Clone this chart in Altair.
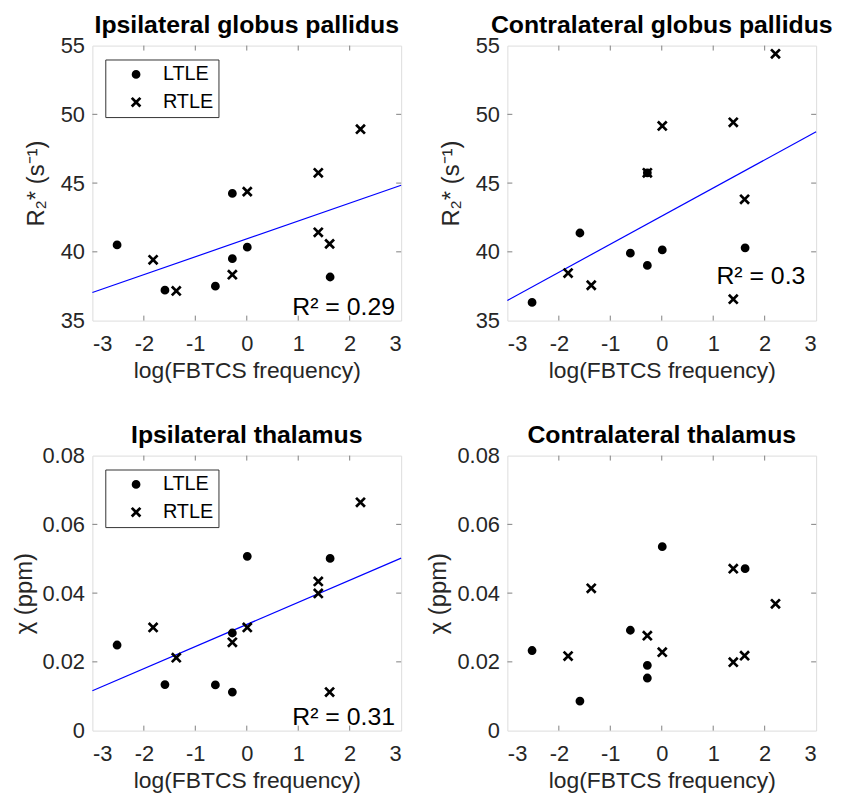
import altair as alt
import pandas as pd

# ---------------- data ----------------
groups = ["LTLE", "RTLE"]
ltle_x = [-2.52, -1.59, -0.61, -0.28, -0.28, 0.01, 1.62]
rtle_x = [-1.82, -1.37, -0.28, 0.01, 1.39, 1.39, 1.61, 2.21]

# Ipsilateral globus pallidus (R2*, 1/s)
ipsi_gp_ltle = [40.5, 37.21, 37.5, 44.25, 39.5, 40.34, 38.17]
ipsi_gp_rtle = [39.42, 37.16, 38.34, 44.38, 45.75, 41.42, 40.58, 48.92]
# Contralateral globus pallidus
contra_gp_ltle = [36.32, 41.37, 39.9, 39.01, 45.75, 40.14, 40.29]
contra_gp_rtle = [38.46, 37.57, 45.75, 49.16, 49.42, 36.56, 43.82, 54.4]
# Ipsilateral thalamus (chi, ppm)
ipsi_th_ltle = [0.0249, 0.0134, 0.0133, 0.0112, 0.0284, 0.0507, 0.0501]
ipsi_th_rtle = [0.0300, 0.0212, 0.0257, 0.0300, 0.0434, 0.0399, 0.0112, 0.0664]
# Contralateral thalamus
contra_th_ltle = [0.0233, 0.0086, 0.0292, 0.0190, 0.0153, 0.0535, 0.0471]
contra_th_rtle = [0.0217, 0.0414, 0.0276, 0.0228, 0.0471, 0.0199, 0.0218, 0.0369]

titles = ["Ipsilateral globus pallidus", "Contralateral globus pallidus",
          "Ipsilateral thalamus", "Contralateral thalamus"]
r2_labels = ["R\u00b2 = 0.29", "R\u00b2 = 0.3", "R\u00b2 = 0.31", None]
r2_x = [2.88, 2.79, 2.88, None]
r2_y = [35.43, 37.67, 0.0017, None]

x_ticks = [-3, -2, -1, 0, 1, 2, 3]
x_inner = [-2, -1, 0, 1, 2]
gp_ticks = [35, 40, 45, 50, 55]
gp_inner = [40, 45, 50]
th_ticks = [0, 0.02, 0.04, 0.06, 0.08]
th_inner = [0.02, 0.04, 0.06]

FONT = "Liberation Sans"
W, H = 311, 277
TICKLEN = 5
BOX = "#808080"
TXT = "#262626"
CROSS = "M-1.45,-1.45L1.45,1.45M1.45,-1.45L-1.45,1.45"


def panel(i, ltle_y, rtle_y, ydom, yticks, yinner, ytitle, ytitlepad, legend, fit):
    df = pd.DataFrame({
        "x": ltle_x + rtle_x,
        "y": ltle_y + rtle_y,
        "group": ["LTLE"] * len(ltle_x) + ["RTLE"] * len(rtle_x),
    })
    xs = alt.Scale(domain=[-3, 3], nice=False, zero=False)
    ys = alt.Scale(domain=ydom, nice=False, zero=False)
    xaxis = alt.Axis(values=x_ticks, labelExpr="'' + datum.value", ticks=False, tickSize=0,
                     domain=False, grid=False, labelFontSize=22, labelColor=TXT, labelFont=FONT,
                     labelPadding=13, title="log(FBTCS frequency)", titleFontSize=23,
                     titleFontWeight="normal", titleFont=FONT, titleColor=TXT, titlePadding=5)
    yaxis = alt.Axis(values=yticks, format=".2~f", ticks=False, tickSize=0, domain=False,
                     grid=False, labelFontSize=22, labelColor=TXT, labelFont=FONT, labelPadding=8,
                     title=ytitle, titleFontSize=24, titleFontWeight="normal", titleFont=FONT,
                     titleColor=TXT, titlePadding=ytitlepad)
    if legend:
        leg = alt.Legend(title=None, orient="none", legendX=13, legendY=14, padding=5,
                         strokeColor="#333333", fillColor="white", labelFontSize=20,
                         labelFont=FONT, labelColor="black", symbolSize=36,
                         symbolFillColor="black", symbolStrokeColor="black",
                         symbolStrokeWidth=2.8, symbolOffset=16, labelOffset=17,
                         rowPadding=8)
    else:
        leg = None
    black2 = alt.Scale(domain=groups, range=["black", "black"])
    pts = alt.Chart(df).mark_point(filled=False, fill="black", strokeWidth=2.7, size=38,
                                   opacity=1, fillOpacity=1).encode(
        x=alt.X("x:Q", scale=xs, axis=xaxis),
        y=alt.Y("y:Q", scale=ys, axis=yaxis),
        shape=alt.Shape("group:N", scale=alt.Scale(domain=groups, range=["circle", CROSS]),
                        legend=leg),
        stroke=alt.Stroke("group:N", scale=black2, legend=leg),
    )
    layers = []
    if fit:
        line = alt.Chart(df).transform_regression("x", "y", extent=[-3, 3]).mark_line(
            color="#0000ff", strokeWidth=1.2).encode(
            x=alt.X("x:Q", scale=xs), y=alt.Y("y:Q", scale=ys))
        layers.append(line)
    # inward tick marks
    tx = pd.DataFrame({"t": x_inner})
    ty = pd.DataFrame({"t": yinner})
    tstyle = dict(color=BOX, strokeWidth=1)
    layers += [
        alt.Chart(tx).mark_rule(**tstyle).encode(x=alt.X("t:Q", scale=xs), y=alt.value(0), y2=alt.value(TICKLEN)),
        alt.Chart(tx).mark_rule(**tstyle).encode(x=alt.X("t:Q", scale=xs), y=alt.value(H), y2=alt.value(H - TICKLEN)),
        alt.Chart(ty).mark_rule(**tstyle).encode(y=alt.Y("t:Q", scale=ys), x=alt.value(0), x2=alt.value(TICKLEN)),
        alt.Chart(ty).mark_rule(**tstyle).encode(y=alt.Y("t:Q", scale=ys), x=alt.value(W), x2=alt.value(W - TICKLEN)),
    ]
    layers.append(pts)
    if r2_labels[i]:
        ann = pd.DataFrame({"x": [r2_x[i]], "y": [r2_y[i]], "label": [r2_labels[i]]})
        layers.append(alt.Chart(ann).mark_text(align="right", baseline="alphabetic", fontSize=25,
                                               font=FONT, color="black").encode(
            x=alt.X("x:Q", scale=xs), y=alt.Y("y:Q", scale=ys), text="label:N"))
    return alt.layer(*layers).properties(
        width=W, height=H,
        title=alt.Title(titles[i], fontSize=25, fontWeight="bold", font=FONT, color="black",
                        offset=-3),
    )


ytitle_gp = "R\u2082* (s\u207b\u00b9)"
ytitle_th = "\u03c7 (ppm)"

p1 = panel(0, ipsi_gp_ltle, ipsi_gp_rtle, [35, 55], gp_ticks, gp_inner, ytitle_gp, 12, True, True)
p2 = panel(1, contra_gp_ltle, contra_gp_rtle, [35, 55], gp_ticks, gp_inner, ytitle_gp, 12, False, True)
p3 = panel(2, ipsi_th_ltle, ipsi_th_rtle, [0, 0.08], th_ticks, th_inner, ytitle_th, 6, True, True)
p4 = panel(3, contra_th_ltle, contra_th_rtle, [0, 0.08], th_ticks, th_inner, ytitle_th, 6, False, False)

chart = alt.concat(p1, p2, p3, p4, columns=2, spacing=alt.RowColnumber(row=136, column=107),
                   bounds="flush").resolve_scale(shape="independent", stroke="independent").resolve_legend(
    shape="independent", stroke="independent").properties(
    padding={"left": 3, "top": 1, "right": 0, "bottom": 0}
).configure_view(stroke=BOX, strokeWidth=1).configure(background="white")

chart.save("out.html", embed_options={"renderer": "svg", "actions": False})
